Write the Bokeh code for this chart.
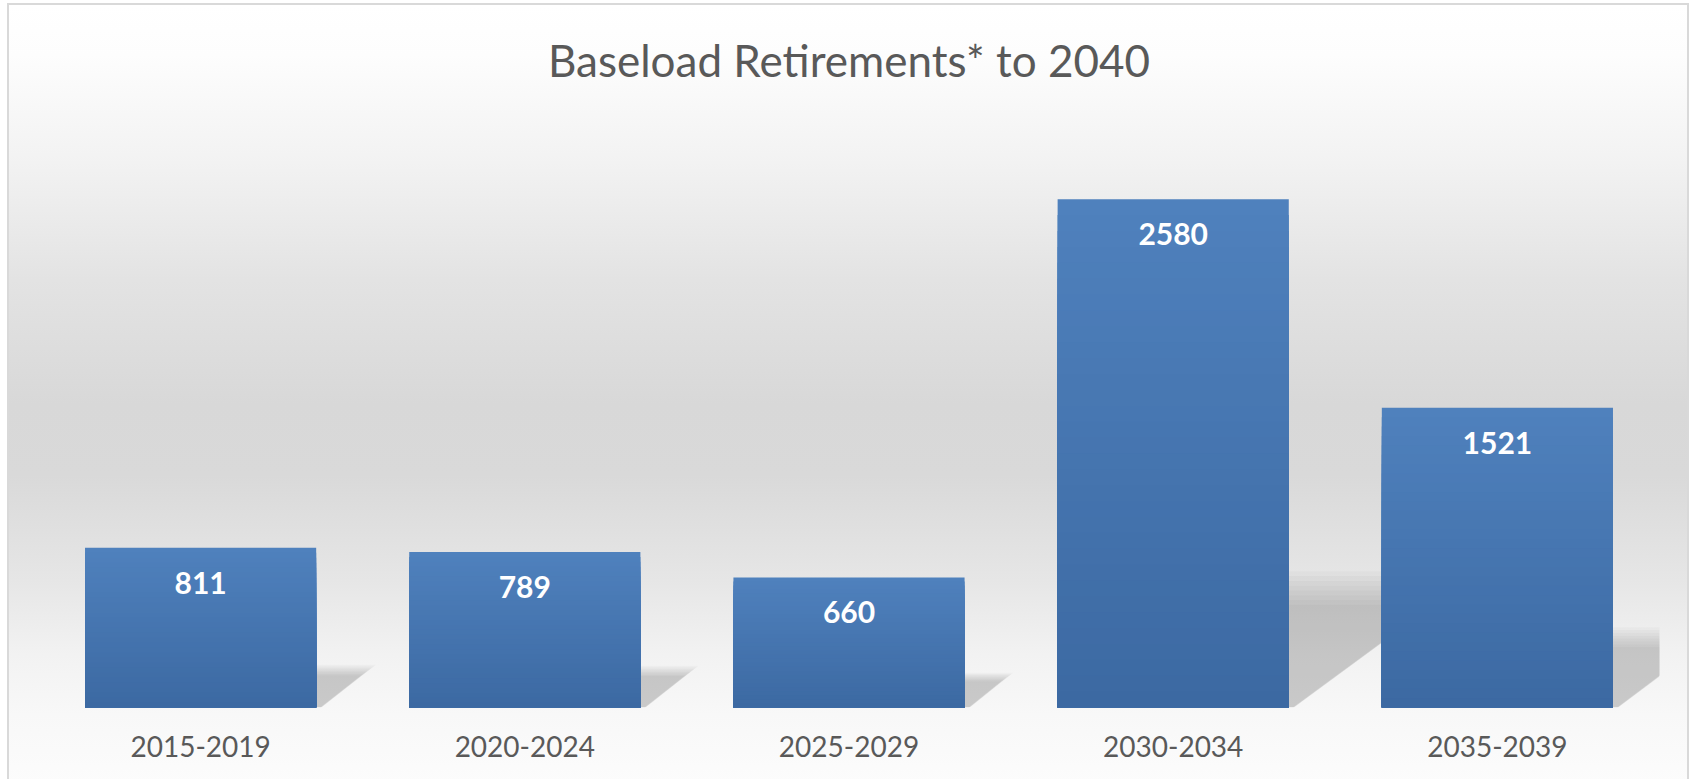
import numpy as np
from bokeh.plotting import figure
from bokeh.models import Range1d, FixedTicker, ColumnDataSource
from bokeh.core.properties import value
from bokeh.embed import file_html
from bokeh.resources import INLINE

# ---- data ----
categories = ["2015-2019", "2020-2024", "2025-2029", "2030-2034", "2035-2039"]
retirements = [811, 789, 660, 2580, 1521]
title_text = "Baseload Retirements* to 2040"

# ---- style constants ----
BAR_WIDTH = 0.713
TOP_RGB = np.array([79, 129, 189])
BOT_RGB = np.array([60, 105, 162])
N_LAYERS = 32
SHADOW_H = 0.235         # shadow height as fraction of bar height
SHADOW_DX = 2.0e-4       # horizontal shadow skew per unit value (x units)
SHADOW_SPREAD = [0.86, 0.90, 0.94, 0.98, 1.02, 1.06, 1.10, 1.14]

xs = np.arange(len(categories), dtype=float)
vals = np.array(retirements, dtype=float)

bg = ("linear-gradient(#d9d9d9,#d9d9d9) 7px 3px / 2px 800px no-repeat, "
      "linear-gradient(#d9d9d9,#d9d9d9) 1687px 3px / 2px 800px no-repeat, "
      "linear-gradient(#d9d9d9,#d9d9d9) 7px 3px / 1682px 2px no-repeat, "
      "linear-gradient(to bottom, #ffffff 0px, #fdfdfd 50px, #f3f3f3 150px, #e3e3e3 275px, "
      "#d8d8d8 400px, #d9d9d9 470px, #e6e6e6 575px, #f2f2f2 650px, #f8f8f8 710px, #fcfcfc 779px) "
      "9px 5px / 1678px 780px no-repeat, #ffffff")

p = figure(width=1692, height=779, output_backend="svg", toolbar_location=None,
           x_range=Range1d(-0.5, len(categories) - 0.5), y_range=Range1d(0, 3000),
           y_axis_location=None, min_border_left=38, min_border_right=33,
           min_border_top=116, min_border_bottom=72,
           styles={"background": bg})
p.background_fill_alpha = 0
p.border_fill_alpha = 0
p.outline_line_color = None
p.grid.visible = False

p.title.text = title_text
p.title.align = "center"
p.title.vertical_align = "middle"
p.title.text_font = "Lato"
p.title.text_font_size = "44px"
p.title.text_font_style = "normal"
p.title.text_color = "#595959"
p.title.standoff = 60

# ---- shadows (soft, layered) ----
sh_xs, sh_ys = [], []
for f in SHADOW_SPREAD:
    for c, v in zip(xs, vals):
        w = BAR_WIDTH / 2
        dx = SHADOW_DX * v * f
        h = SHADOW_H * v * f
        sh_xs.append([c - w, c + w + 0.015 * f, c + w + dx, c - w + dx])
        sh_ys.append([0, 0, h, h])
p.patches(sh_xs, sh_ys, fill_color="black", fill_alpha=0.022, line_color=None)

# ---- bars with vertical gradient (layered, painter's order) ----
bx, btop, bcol = [], [], []
for k in range(N_LAYERS):
    t = (k + 0.5) / N_LAYERS
    rgb = (TOP_RGB * (1 - t) + BOT_RGB * t).round().astype(int)
    col = "#%02x%02x%02x" % tuple(rgb)
    for c, v in zip(xs, vals):
        bx.append(c)
        btop.append(v * (1 - k / N_LAYERS))
        bcol.append(col)
p.vbar(x="x", top="top", bottom=0, width=BAR_WIDTH, fill_color="color", line_color=None,
       source=ColumnDataSource(dict(x=bx, top=btop, color=bcol)))

# ---- value labels ----
p.text(x=xs, y=vals, text=[str(v) for v in retirements], text_color="white",
       text_font=value("Lato"), text_font_style="bold", text_font_size="30px",
       text_align="center", text_baseline="middle", y_offset=35)

# ---- x axis ----
ax = p.xaxis[0]
ax.ticker = FixedTicker(ticks=list(xs))
ax.major_label_overrides = {int(i): c for i, c in enumerate(categories)}
ax.axis_line_color = None
ax.major_tick_line_color = None
ax.minor_tick_line_color = None
ax.major_label_text_font = "Lato"
ax.major_label_text_font_size = "28px"
ax.major_label_text_color = "#595959"
ax.major_label_standoff = 22

open("out.html", "w").write(file_html(p, INLINE))
